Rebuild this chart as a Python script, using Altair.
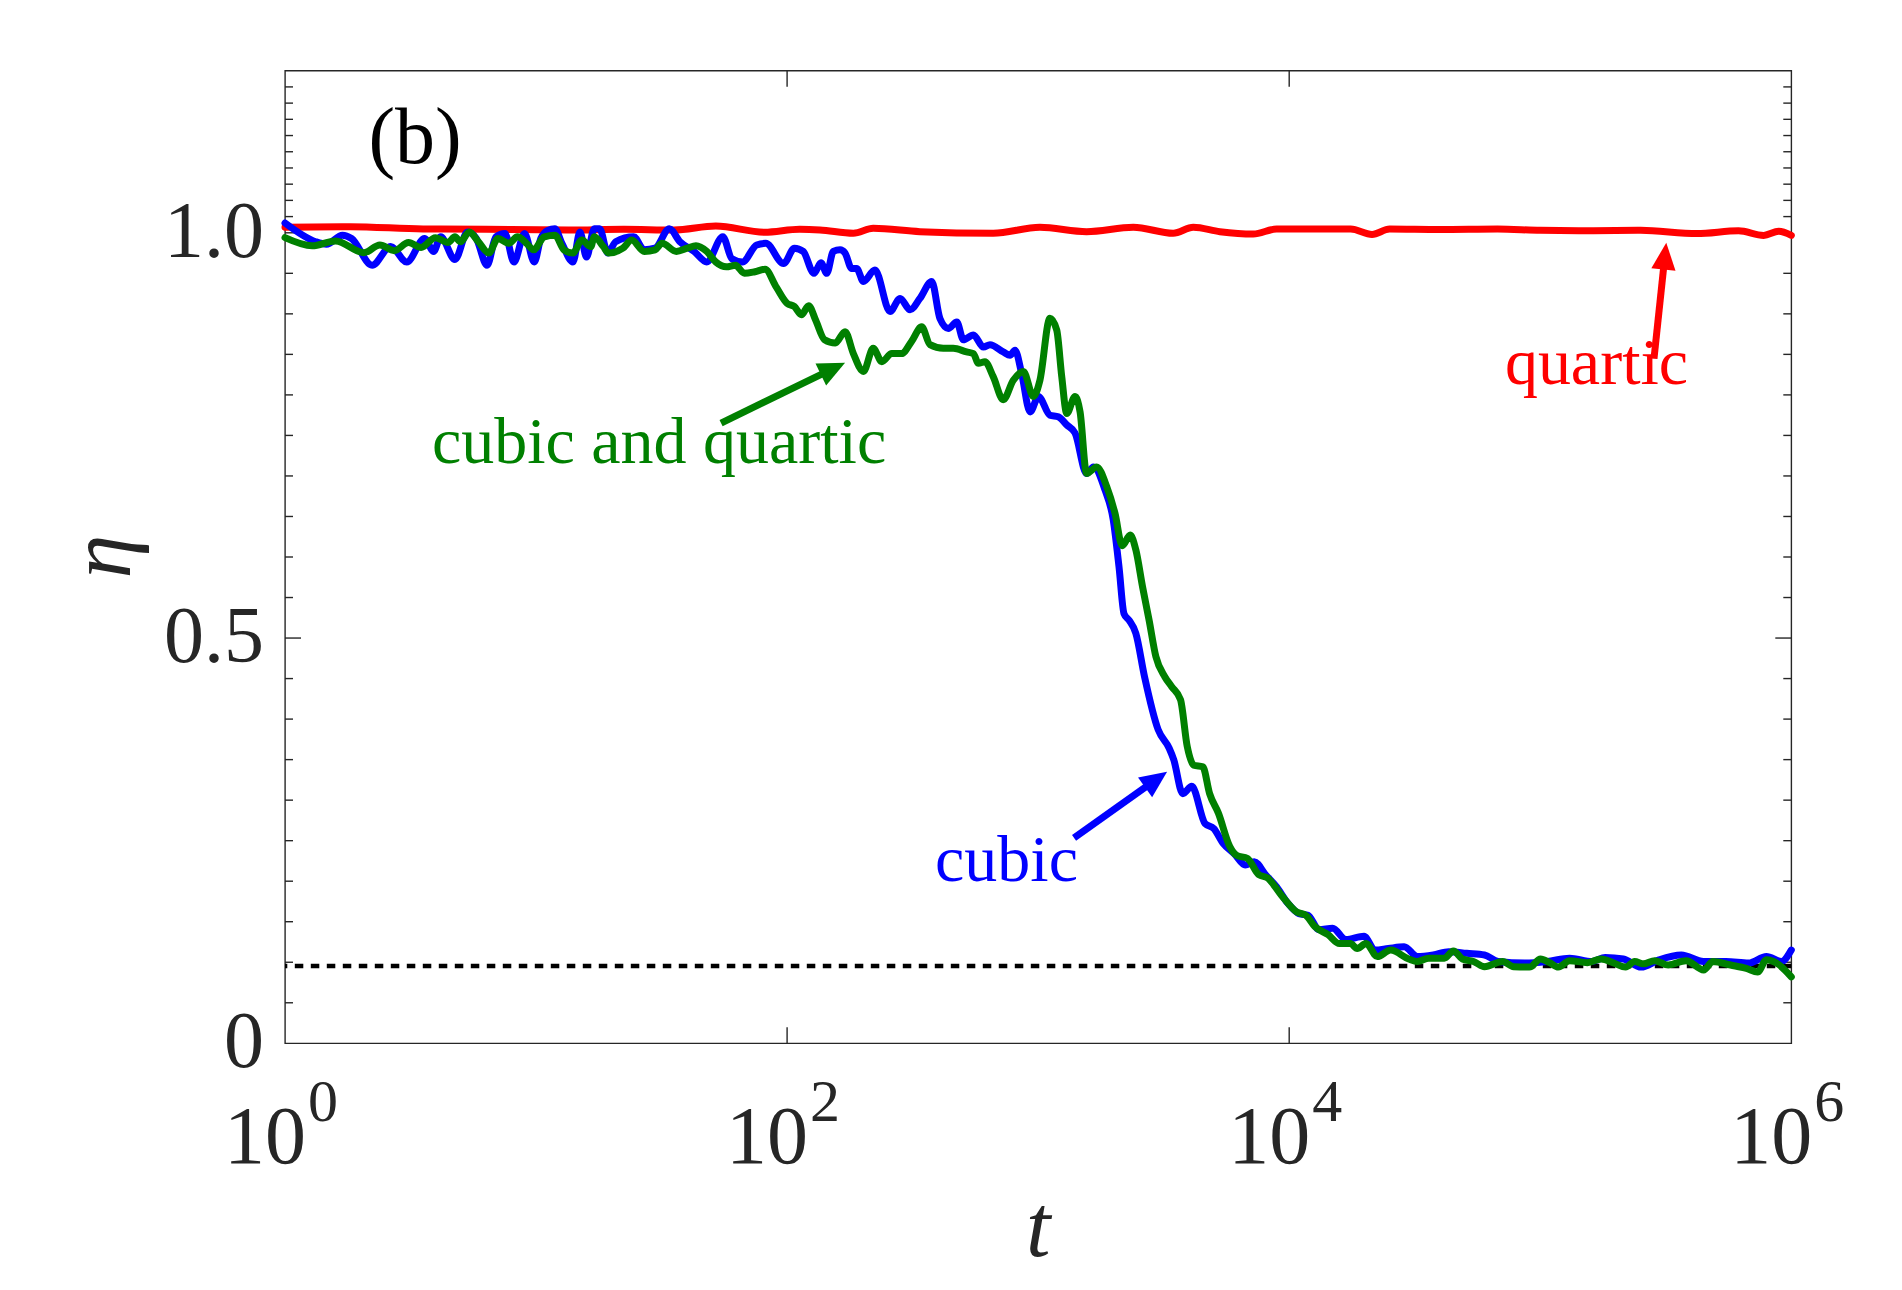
import math
import altair as alt
import pandas as pd

# ---------------- data ----------------
# quartic (red)
red_log_t = [0.0, 0.26, 0.55, 0.80, 1.13, 1.35, 1.55, 1.716, 1.91, 2.05, 2.131, 2.264, 2.343,
             2.529, 2.821, 3.007, 3.193, 3.379, 3.538, 3.618, 3.724, 3.857, 3.95, 4.245, 4.33,
             4.40, 4.60, 4.83, 5.0, 5.2, 5.4, 5.624, 5.79, 5.89, 5.95, 6.0]
red_eta = [1.0068, 1.0075, 1.0047, 1.0043, 1.0035, 1.0043, 1.0035, 1.0084, 1.0006, 1.0043,
           1.0035, 0.9994, 1.0055, 1.0014, 0.9994, 1.0068, 1.0014, 1.0068, 0.9994, 1.0068,
           1.0014, 0.9985, 1.0047, 1.0047, 0.998, 1.0047, 1.0040, 1.0047, 1.003, 1.0025,
           1.003, 0.999, 1.0025, 0.9968, 1.0018, 0.9968]

# cubic (blue)
blue_log_t = [0.0, 0.122, 0.165, 0.229, 0.265, 0.347, 0.421, 0.485, 0.556, 0.592, 0.620, 0.677,
              0.727, 0.762, 0.805, 0.840, 0.876, 0.912, 0.954, 0.993, 1.019, 1.047, 1.075, 1.103,
              1.147, 1.175, 1.201, 1.232, 1.253, 1.286, 1.317, 1.389, 1.431, 1.474, 1.531, 1.573,
              1.630, 1.680, 1.744, 1.780, 1.822, 1.879, 1.915, 1.986, 2.029, 2.064, 2.107, 2.135,
              2.158, 2.184, 2.211, 2.231, 2.257, 2.277, 2.304, 2.350, 2.410, 2.450, 2.490, 2.529,
              2.576, 2.609, 2.642, 2.676, 2.702, 2.742, 2.782, 2.808, 2.861, 2.888, 2.908, 2.934,
              2.968, 3.001, 3.047, 3.080, 3.114, 3.147, 3.193, 3.220, 3.266, 3.299, 3.322, 3.342,
              3.362, 3.389, 3.424, 3.478, 3.522, 3.540, 3.576, 3.612, 3.665, 3.700, 3.736, 3.781,
              3.825, 3.861, 3.906, 3.950, 3.994, 4.039, 4.075, 4.119, 4.173, 4.226, 4.298, 4.342,
              4.395, 4.458, 4.511, 4.574, 4.636, 4.707, 4.778, 4.832, 4.939, 5.028, 5.117, 5.206,
              5.259, 5.331, 5.402, 5.473, 5.562, 5.651, 5.740, 5.830, 5.901, 5.961, 6.0]
blue_eta = [1.012, 0.989, 0.986, 0.997, 0.993, 0.960, 0.983, 0.964, 0.993, 0.977, 0.995, 0.967,
            1.001, 0.993, 0.960, 0.995, 0.999, 0.964, 0.999, 0.964, 0.993, 1.003, 1.005, 0.987,
            0.964, 1.001, 0.970, 1.005, 1.005, 0.975, 0.989, 0.995, 0.979, 0.981, 1.005, 0.989,
            0.977, 0.964, 0.995, 0.968, 0.964, 0.985, 0.987, 0.962, 0.981, 0.977, 0.950, 0.963,
            0.950, 0.977, 0.979, 0.975, 0.956, 0.956, 0.940, 0.954, 0.903, 0.919, 0.905, 0.919,
            0.940, 0.894, 0.882, 0.890, 0.868, 0.874, 0.859, 0.862, 0.853, 0.849, 0.855, 0.827,
            0.779, 0.798, 0.775, 0.773, 0.763, 0.753, 0.703, 0.711, 0.683, 0.646, 0.588, 0.530,
            0.522, 0.506, 0.452, 0.387, 0.364, 0.350, 0.308, 0.317, 0.271, 0.265, 0.247, 0.234,
            0.220, 0.224, 0.208, 0.193, 0.173, 0.160, 0.158, 0.140, 0.142, 0.128, 0.132, 0.115,
            0.117, 0.119, 0.107, 0.109, 0.113, 0.111, 0.109, 0.101, 0.099, 0.101, 0.105, 0.101,
            0.106, 0.104, 0.094, 0.103, 0.109, 0.101, 0.101, 0.099, 0.107, 0.101, 0.115]

# cubic and quartic (green)
green_log_t = [0.0, 0.108, 0.201, 0.314, 0.378, 0.435, 0.492, 0.542, 0.599, 0.649, 0.677, 0.699,
               0.734, 0.770, 0.812, 0.848, 0.891, 0.926, 0.962, 0.990, 1.033, 1.075, 1.111, 1.147,
               1.182, 1.218, 1.232, 1.268, 1.289, 1.346, 1.381, 1.431, 1.474, 1.502, 1.559, 1.602,
               1.637, 1.680, 1.716, 1.758, 1.794, 1.830, 1.872, 1.912, 1.957, 2.000, 2.029, 2.057,
               2.086, 2.114, 2.149, 2.192, 2.231, 2.264, 2.304, 2.343, 2.377, 2.417, 2.456, 2.496,
               2.536, 2.569, 2.622, 2.662, 2.715, 2.742, 2.762, 2.788, 2.821, 2.861, 2.901, 2.941,
               2.981, 3.007, 3.047, 3.074, 3.094, 3.114, 3.147, 3.167, 3.193, 3.233, 3.273, 3.306,
               3.335, 3.367, 3.389, 3.416, 3.442, 3.469, 3.505, 3.532, 3.567, 3.594, 3.620, 3.656,
               3.683, 3.718, 3.763, 3.790, 3.834, 3.879, 3.914, 3.968, 4.030, 4.066, 4.102, 4.155,
               4.200, 4.244, 4.271, 4.306, 4.351, 4.404, 4.476, 4.511, 4.556, 4.618, 4.654, 4.690,
               4.734, 4.778, 4.850, 4.894, 4.957, 5.001, 5.037, 5.072, 5.117, 5.188, 5.242, 5.295,
               5.340, 5.376, 5.411, 5.456, 5.510, 5.581, 5.651, 5.687, 5.758, 5.821, 5.866, 5.901,
               5.946, 6.0]
green_eta = [0.994, 0.984, 0.990, 0.9755, 0.985, 0.978, 0.988, 0.982, 0.994, 0.988, 0.995, 0.989,
             1.001, 0.989, 0.975, 0.993, 0.987, 0.995, 0.987, 0.979, 0.995, 0.997, 0.979, 0.975,
             0.991, 0.983, 0.995, 0.983, 0.975, 0.981, 0.991, 0.977, 0.979, 0.987, 0.977, 0.981,
             0.984, 0.977, 0.964, 0.958, 0.960, 0.950, 0.952, 0.955, 0.933, 0.913, 0.909, 0.899,
             0.910, 0.892, 0.868, 0.864, 0.878, 0.851, 0.829, 0.8575, 0.841, 0.851, 0.851, 0.866,
             0.884, 0.862, 0.8575, 0.8575, 0.853, 0.851, 0.839, 0.841, 0.8225, 0.794, 0.818, 0.829,
             0.798, 0.818, 0.8945, 0.880, 0.8225, 0.777, 0.798, 0.779, 0.703, 0.711, 0.687, 0.654,
             0.614, 0.627, 0.609, 0.563, 0.522, 0.477, 0.452, 0.440, 0.424, 0.366, 0.343, 0.341,
             0.308, 0.284, 0.243, 0.232, 0.228, 0.208, 0.204, 0.183, 0.162, 0.158, 0.144, 0.134,
             0.123, 0.123, 0.117, 0.123, 0.107, 0.115, 0.104, 0.101, 0.105, 0.105, 0.114, 0.104,
             0.101, 0.0945, 0.101, 0.0945, 0.094, 0.104, 0.0995, 0.094, 0.102, 0.0995, 0.104, 0.0987,
             0.094, 0.101, 0.098, 0.102, 0.0966, 0.102, 0.0904, 0.101, 0.0966, 0.0925, 0.088, 0.103,
             0.098, 0.082]

# dotted reference level
eta_ref = [0.0955]

# axis ticks and labels
x_label_t = [1, 100, 10000, 1000000]
x_label_base = ["10", "10", "10", "10"]
x_label_exp = ["0", "2", "4", "6"]
x_major_ticks = [100, 10000]
y_label_values = [0, 0.5, 1.0]
y_label_text = ["0", "0.5", "1.0"]
y_major_ticks = [0.5, 1.0]
y_minor_ticks = [0.05, 0.10, 0.15, 0.20, 0.25, 0.30, 0.35, 0.40, 0.45, 0.55, 0.60, 0.65,
                 0.70, 0.75, 0.80, 0.85, 0.90, 0.95, 1.02, 1.04, 1.06, 1.08, 1.10, 1.12,
                 1.14, 1.16, 1.18]
x_title = "t"
y_title = "η"

# annotations (log10 t, eta)
ann_text = ["cubic and quartic", "quartic", "cubic"]
ann_log_t = [1.490, 5.224, 2.874]
ann_eta = [0.7163, 0.8137, 0.2006]
ann_color = ["#008000", "#ff0000", "#0000ff"]

arrow_color = ["#008000", "#ff0000", "#0000ff"]
arrow_tail_log_t = [1.737, 5.453, 3.143]
arrow_tail_eta = [0.7653, 0.8446, 0.2535]
arrow_tip_log_t = [2.231, 5.502, 3.5136]
arrow_tip_eta = [0.8397, 0.9878, 0.3351]

panel_label = "(b)"
panel_log_t = 0.518
panel_eta = 1.0861

# ---------------- layout ----------------
W, H = 1506.3, 972.6
PX_DEC = W / 6.0        # pixels per decade
PX_UNIT = H / 1.2       # pixels per unit of eta
INK = "#262626"
FONT = "Liberation Serif"

xscale = alt.Scale(type="log", domain=[1, 1e6], nice=False)
yscale = alt.Scale(domain=[0, 1.2], nice=False, zero=False)


def X(field):
    return alt.X(field, type="quantitative", scale=xscale, axis=None)


def Y(field):
    return alt.Y(field, type="quantitative", scale=yscale, axis=None)


def series(lt, eta):
    return pd.DataFrame({"t": [10 ** v for v in lt], "eta": eta})


red_df = series(red_log_t, red_eta)
blue_df = series(blue_log_t, blue_eta)
green_df = series(green_log_t, green_eta)

line_kw = dict(strokeWidth=7, strokeCap="round", strokeJoin="round", interpolate="monotone")

ref_layer = alt.Chart(pd.DataFrame({"eta": eta_ref})).mark_rule(
    color="black", strokeWidth=4.5, strokeDash=[8.5, 7.5]
).encode(y=Y("eta"))

red_layer = alt.Chart(red_df).mark_line(color="#ff0000", **line_kw).encode(x=X("t"), y=Y("eta"))
blue_layer = alt.Chart(blue_df).mark_line(color="#0000ff", **line_kw).encode(x=X("t"), y=Y("eta"))
green_layer = alt.Chart(green_df).mark_line(color="#008000", **line_kw).encode(x=X("t"), y=Y("eta"))

# tick marks drawn inward (box style)
tick_kw = dict(color=INK, strokeWidth=1.4)
ymin_df = pd.DataFrame({"v": y_minor_ticks})
ymaj_df = pd.DataFrame({"v": y_major_ticks})
xmaj_df = pd.DataFrame({"v": x_major_ticks})
ticks = [
    alt.Chart(ymin_df).mark_rule(**tick_kw).encode(y=Y("v"), x=alt.value(0), x2=alt.value(8)),
    alt.Chart(ymin_df).mark_rule(**tick_kw).encode(y=Y("v"), x=alt.value(W), x2=alt.value(W - 8)),
    alt.Chart(ymaj_df).mark_rule(**tick_kw).encode(y=Y("v"), x=alt.value(0), x2=alt.value(16)),
    alt.Chart(ymaj_df).mark_rule(**tick_kw).encode(y=Y("v"), x=alt.value(W), x2=alt.value(W - 16)),
    alt.Chart(xmaj_df).mark_rule(**tick_kw).encode(x=X("v"), y=alt.value(H), y2=alt.value(H - 16)),
    alt.Chart(xmaj_df).mark_rule(**tick_kw).encode(x=X("v"), y=alt.value(0), y2=alt.value(16)),
]

# y tick labels
ylab_df = pd.DataFrame({"v": y_label_values, "label": y_label_text})
ylab_layer = alt.Chart(ylab_df).mark_text(
    font=FONT, fontSize=80, color=INK, align="right", baseline="middle"
).encode(y=Y("v"), x=alt.value(-21), text="label:N")

# x tick labels 10^n with real superscripts
xlab_df = pd.DataFrame({"t": x_label_t, "base": x_label_base, "exp": x_label_exp})
xlab_base = alt.Chart(xlab_df).mark_text(
    font=FONT, fontSize=82, color=INK, align="right", baseline="alphabetic", dx=21
).encode(x=X("t"), y=alt.value(H + 120), text="base:N")
xlab_exp = alt.Chart(xlab_df).mark_text(
    font=FONT, fontSize=60, color=INK, align="left", baseline="alphabetic", dx=23
).encode(x=X("t"), y=alt.value(H + 77.7), text="exp:N")

# axis titles
xtitle_layer = alt.Chart(pd.DataFrame({"label": [x_title]})).mark_text(
    font=FONT, fontStyle="italic", fontSize=88, color=INK, align="center", baseline="alphabetic"
).encode(x=alt.value(W / 2), y=alt.value(H + 212.7), text="label:N")
ytitle_layer = alt.Chart(pd.DataFrame({"label": [y_title]})).mark_text(
    font=FONT, fontStyle="italic", fontSize=88, color=INK, align="center", baseline="alphabetic",
    angle=270
).encode(x=alt.value(-155), y=alt.value(485.9), text="label:N")

# annotation texts
ann_df = pd.DataFrame({"t": [10 ** v for v in ann_log_t], "eta": ann_eta,
                       "label": ann_text, "color": ann_color})
ann_layer = alt.Chart(ann_df).mark_text(
    font=FONT, fontSize=66, align="center", baseline="alphabetic"
).encode(x=X("t"), y=Y("eta"), text="label:N", color=alt.Color("color:N", scale=None))

panel_df = pd.DataFrame({"t": [10 ** panel_log_t], "eta": [panel_eta], "label": [panel_label]})
panel_layer = alt.Chart(panel_df).mark_text(
    font=FONT, fontSize=80, color="black", align="center", baseline="alphabetic"
).encode(x=X("t"), y=Y("eta"), text="label:N")

# arrows: shaft + rotated head
HEAD_LEN = 27.0
rows_shaft, rows_head = [], []
for c, lt0, e0, lt1, e1 in zip(arrow_color, arrow_tail_log_t, arrow_tail_eta,
                               arrow_tip_log_t, arrow_tip_eta):
    dx = (lt1 - lt0) * PX_DEC
    dy = -(e1 - e0) * PX_UNIT
    L = math.hypot(dx, dy)
    ux, uy = dx / L, dy / L
    back = 0.6 * HEAD_LEN
    lt_end = lt1 - back * ux / PX_DEC
    e_end = e1 + back * uy / PX_UNIT
    rows_shaft.append({"t0": 10 ** lt0, "e0": e0, "t1": 10 ** lt_end, "e1": e_end, "color": c})
    rows_head.append({"t": 10 ** lt1, "eta": e1, "color": c,
                      "angle": (math.degrees(math.atan2(dx, -dy)) + 360) % 360})

shaft_layer = alt.Chart(pd.DataFrame(rows_shaft)).mark_rule(strokeWidth=7).encode(
    x=X("t0"), y=Y("e0"), x2="t1", y2="e1", color=alt.Color("color:N", scale=None))
head_layer = alt.Chart(pd.DataFrame(rows_head)).mark_point(
    shape="M0,0L0.45,1L-0.45,1Z", filled=True, size=(2 * HEAD_LEN) ** 2, opacity=1, strokeWidth=0
).encode(x=X("t"), y=Y("eta"), color=alt.Color("color:N", scale=None),
         angle=alt.Angle("angle:Q", scale=None))

chart = alt.layer(
    *ticks, ref_layer, red_layer, blue_layer, green_layer,
    shaft_layer, head_layer, ann_layer, panel_layer,
    ylab_layer, xlab_base, xlab_exp, xtitle_layer, ytitle_layer,
).properties(
    width=W, height=H,
    padding={"left": 277, "top": 62.7, "right": 80, "bottom": 242},
    autosize=alt.AutoSizeParams(type="none"),
    background="white",
).configure_view(stroke=INK, strokeWidth=1.4)

chart.save("out.html", embed_options={"renderer": "svg", "actions": False})
